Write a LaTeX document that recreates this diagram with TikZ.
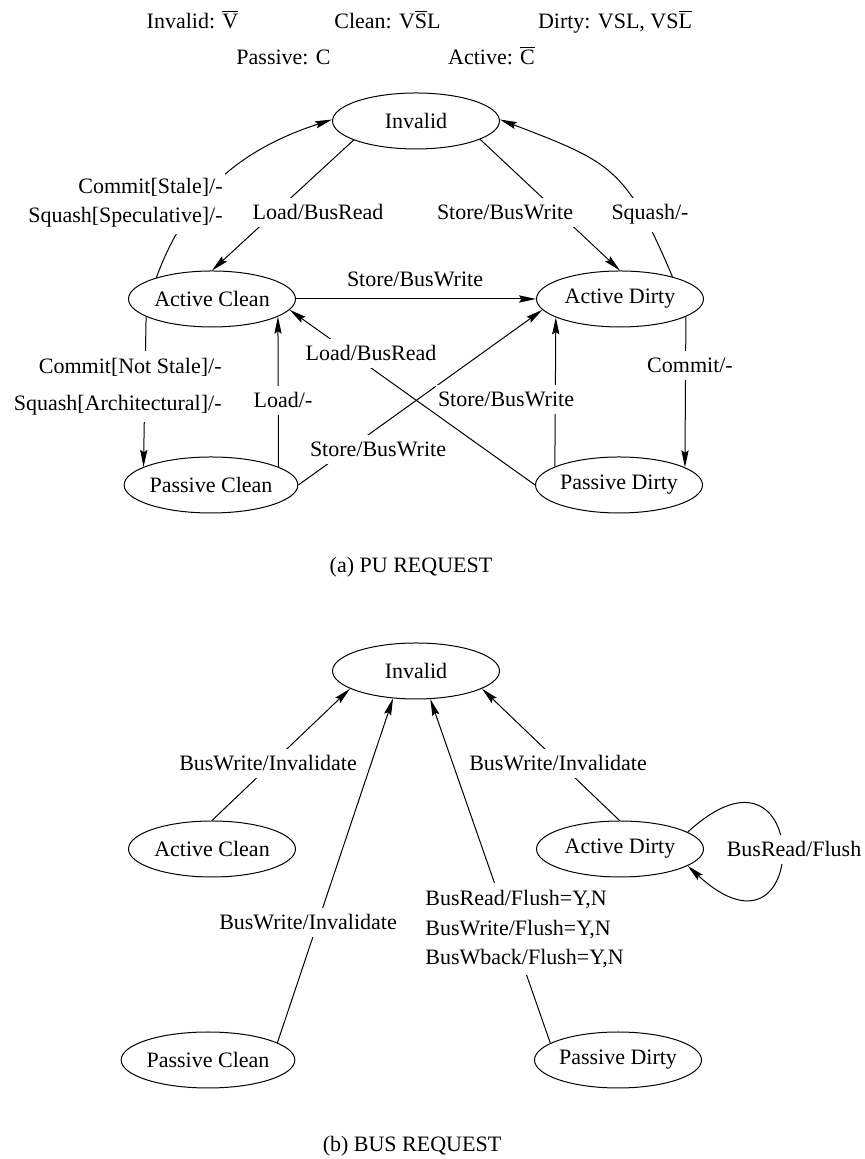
\documentclass[tikz,border=0pt]{standalone}
\usepackage{fontspec}
\setmainfont{Liberation Serif}
\usepackage{tikz}
\usetikzlibrary{arrows.meta}
\usetikzlibrary{shapes.geometric}
\tikzstyle{state}=[ellipse, draw=black, line width=.5pt, minimum width=83.5pt, minimum height=28pt, inner sep=0pt]
\tikzstyle{lbl}=[fill=white, inner xsep=1pt, inner ysep=3.5pt]
\tikzstyle{arr}=[line width=.5pt, -{Stealth[length=8.5pt,width=3.6pt,inset=1.2pt]}]

\begin{document}
\begin{tikzpicture}[x=.5pt, y=.5pt, font=\fontsize{11}{13.6}\selectfont]
    \useasboundingbox (0,0) rectangle (865,1159);
    % legend
    \node[anchor=base] (kInv) at (192.5,1130) {Invalid: $\overline{\mbox{V}}$};
    \node[anchor=base] (kCln) at (387.5,1130) {Clean: V$\overline{\mbox{S}}$L};
    \node[anchor=base] (kDrt) at (615,1130) {Dirty: VSL, VS$\overline{\mbox{L}}$};
    \node[anchor=base] (kPas) at (283.5,1094) {Passive: C};
    \node[anchor=base] (kAct) at (491.5,1094) {Active: $\overline{\mbox{C}}$};

    % (a) PU request
    \node[state] (iA) at (416,1038) {Invalid};
    \node[state] (acA) at (212,860) {Active Clean};
    \node[state] (adA) at (620,860) {Active Dirty};
    \node[state] (pcA) at (211,674) {Passive Clean};
    \node[state] (pdA) at (619,674) {Passive Dirty};
    \foreach \from/\to in
      {iA.197/acA.90, iA.344/adA.90, acA.east/adA.west, acA.195/pcA.165,
       pcA.15/acA.345, pdA.west/acA.352, pcA.east/adA.188, pdA.164/adA.196,
       adA.345/pdA.15}
    \draw[arr] (\from) -- (\to);
    \draw[arr] (acA.159) to[out=70, in=198] (iA.179);
    \draw[arr] (adA.23) to[out=113, in=339, looseness=1.3] (iA.1);

    \node[lbl, anchor=east, align=right] (csA) at (225,956.5) {Commit[Stale]/-\\[.9pt]Squash[Speculative]/-};
    \node[lbl, anchor=base] (lbA) at (318,939) {Load/BusRead};
    \node[lbl, anchor=base] (swA) at (505,939) {Store/BusWrite};
    \node[lbl, anchor=base] (sqA) at (650,939) {Squash/-};
    \node[anchor=base] (swH) at (415,872) {Store/BusWrite};
    \node[lbl, anchor=east, align=right] (cnA) at (224,772.7) {Commit[Not Stale]/-\\[4.9pt]Squash[Architectural]/-};
    \node[lbl, anchor=base] (ldA) at (283,751) {Load/-};
    \node[lbl, anchor=base] (lbX) at (371,798) {Load/BusRead};
    \node[lbl, anchor=base] (swX) at (378,702) {Store/BusWrite};
    \node[lbl, anchor=base] (swV) at (506,752) {Store/BusWrite};
    \node[lbl, anchor=base] (cmA) at (690,786) {Commit/-};
    \node[anchor=base] (capA) at (411,586) {(a) PU REQUEST};

    % (b) BUS request
    \node[state] (iB) at (416,488) {Invalid};
    \node[state] (acB) at (212,310) {Active Clean};
    \node[state] (adB) at (620,310) {Active Dirty};
    \node[state] (pcB) at (208,99) {Passive Clean};
    \node[state] (pdB) at (618,99) {Passive Dirty};
    \foreach \from/\to in
      {acB.90/iB.195, pcB.14/iB.230, pdB.166/iB.297, adB.91/iB.345}
    \draw[arr] (\from) -- (\to);
    \draw[arr] (adB.14) .. controls +(125,115) and +(125,-115) .. (adB.346);

    \node[lbl, anchor=base] (bwL) at (268,388) {BusWrite/Invalidate};
    \node[lbl, anchor=base] (bwR) at (558,388) {BusWrite/Invalidate};
    \node[lbl, anchor=base] (bwP) at (308,229) {BusWrite/Invalidate};
    \node[lbl, anchor=west, align=left] (flB) at (423,229.7) {BusRead/Flush=Y,N\\[1.15pt]BusWrite/Flush=Y,N\\[1.15pt]BusWback/Flush=Y,N};
    \node[lbl, anchor=base] (brB) at (794,302) {BusRead/Flush};
    \node[anchor=base] (capB) at (412,8) {(b) BUS REQUEST};
\end{tikzpicture}
\end{document}
